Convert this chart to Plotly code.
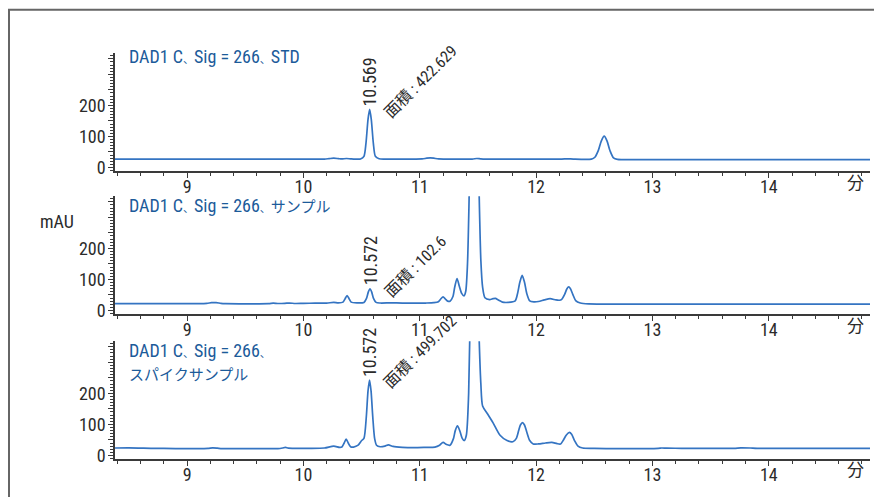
import plotly.graph_objects as go

# --- chromatogram data (retention time in minutes, signal in mAU) ---
std_time = [8.38, 8.60, 9.00, 9.50, 10.00, 10.18, 10.22, 10.26, 10.30, 10.33, 10.37, 10.41,
            10.47, 10.49, 10.52, 10.537, 10.555, 10.569, 10.583, 10.601, 10.618, 10.65, 10.70,
            10.90, 11.02, 11.06, 11.09, 11.12, 11.16, 11.25, 11.45, 11.49, 11.52, 11.56, 12.00,
            12.22, 12.27, 12.32, 12.475, 12.505, 12.535, 12.56, 12.585, 12.61, 12.635, 12.665,
            12.70, 12.75, 13.00, 14.00, 14.87]
std_mau = [27, 27, 27, 27, 27, 27, 28.5, 30, 28.5, 27.5, 29, 27.5,
           27, 27.5, 36, 77, 155, 187, 155, 77, 36, 28, 27,
           27, 27.5, 30, 31, 30, 27.5, 27, 27, 29, 28, 27, 27,
           27, 28, 27, 27, 33, 55, 85, 101, 85, 54, 31,
           26, 25.5, 25.5, 25.5, 25.5]

smp_time = [8.38, 8.80, 9.10, 9.17, 9.21, 9.25, 9.29, 9.33, 9.70, 9.74, 9.78, 9.84, 9.88,
            9.93, 10.00, 10.10, 10.20, 10.26, 10.30, 10.34, 10.358, 10.375, 10.392, 10.41,
            10.46, 10.52, 10.542, 10.558, 10.572, 10.586, 10.602, 10.624, 10.66, 10.75, 10.85,
            10.95, 11.05, 11.12, 11.16, 11.18, 11.20, 11.22, 11.24, 11.26, 11.285, 11.30,
            11.32, 11.34, 11.36, 11.38, 11.395, 11.41, 11.425, 11.445, 11.468, 11.49, 11.51,
            11.525, 11.54, 11.56, 11.60, 11.63, 11.65, 11.675, 11.71, 11.76, 11.82, 11.84,
            11.86, 11.88, 11.90, 11.92, 11.945, 11.98, 12.02, 12.07, 12.12, 12.17, 12.20,
            12.22, 12.245, 12.265, 12.28, 12.295, 12.315, 12.34, 12.38, 12.45, 12.60, 13.00,
            14.00, 14.87]
smp_mau = [22, 22, 22, 23, 25, 25.5, 23, 22, 22, 23.5, 22.5, 23, 24,
           22.5, 23, 23.5, 24, 26, 24.5, 27, 38, 48, 38, 27,
           24.5, 26, 39, 60, 70, 60, 39, 26, 24, 24.5, 24,
           23.5, 24, 25, 28, 37, 44, 37, 30, 30, 45, 75,
           103, 78, 55, 47, 62, 150, 380, 800, 1000, 800, 380,
           160, 75, 41, 35, 38, 39, 34, 27, 26, 31, 54,
           91, 113, 91, 54, 31, 28, 29, 34, 38, 34, 33,
           36, 52, 70, 76, 70, 52, 32, 24, 21, 20.5, 20.5,
           20.5, 20.5]

spk_time = [8.38, 8.50, 8.70, 8.90, 9.10, 9.18, 9.22, 9.26, 9.30, 9.60, 9.78, 9.82, 9.845,
            9.87, 9.95, 10.05, 10.18, 10.26, 10.31, 10.33, 10.35, 10.367, 10.385, 10.405,
            10.43, 10.47, 10.50, 10.52, 10.54, 10.555, 10.568, 10.581, 10.596, 10.612, 10.628,
            10.66, 10.70, 10.73, 10.77, 10.85, 10.95, 11.05, 11.13, 11.17, 11.20, 11.23,
            11.26, 11.29, 11.305, 11.324, 11.345, 11.365, 11.382, 11.40, 11.42, 11.44, 11.465,
            11.49, 11.51, 11.525, 11.54, 11.58, 11.63, 11.69, 11.75, 11.80, 11.83, 11.85,
            11.865, 11.883, 11.90, 11.92, 11.945, 11.975, 12.02, 12.08, 12.135, 12.18, 12.21,
            12.235, 12.26, 12.287, 12.305, 12.33, 12.36, 12.40, 12.50, 13.05, 13.08, 13.12,
            13.25, 13.70, 13.76, 13.84, 13.90, 14.87]
spk_mau = [24, 24.5, 23, 22, 22, 23, 24.5, 23.5, 22, 22, 22, 24, 26,
           23.5, 23, 23, 24, 30, 26, 27, 40, 53, 40, 28,
           27, 33, 48, 55, 123, 208, 243, 208, 123, 54, 33,
           28, 30, 34, 29, 26, 25, 26, 27, 33, 42, 35,
           33, 55, 80, 95, 78, 55, 48, 65, 200, 600, 950,
           700, 380, 230, 159, 135, 105, 65, 48, 44, 55, 80,
           98, 106, 98, 75, 48, 37, 37, 40, 42, 38, 37,
           50, 66, 74, 68, 48, 30, 24, 23, 23, 24, 23.5,
           23, 23, 24.5, 24, 23, 23]

# kana and the ideographic comma are set a little smaller than the Latin part
COMMA = "<span style='font-size:11px'>、</span>"


def kana(s):
    return f"<span style='font-size:15px'>{s}</span>"


panel_titles = [f"DAD1 C{COMMA}Sig = 266{COMMA}STD",
                f"DAD1 C{COMMA}Sig = 266{COMMA}{kana('サンプル')}",
                f"DAD1 C{COMMA}Sig = 266{COMMA}<br>{kana('スパイクサンプル')}"]
peak_rt = [10.569, 10.572, 10.568]
peak_label_rt = ["10.569", "10.572", "10.572"]
peak_height = [187, 70, 243]
peak_area = ["422.629", "102.6", "499.702"]

x_ticks = [9, 10, 11, 12, 13, 14]
y_ticks = [0, 50, 100, 150, 200, 250, 300, 350]
y_ticktext = ["0", "", "100", "", "200", "", "", ""]

traces = [(std_time, std_mau), (smp_time, smp_mau), (spk_time, spk_mau)]

# --- geometry (pixels of the 874 x 504 page) ---
W, H = 874, 504
x_dom = [115 / W, 870 / W]
y_doms = [[1 - 173 / H, 1 - 54 / H],
          [1 - 318 / H, 1 - 199 / H],
          [1 - 465 / H, 1 - 346 / H]]
title_y_px = [57, 208, 353]
unit_y_px = [186, 331, 477]

FONT = "Liberation Sans Narrow, Roboto Condensed, DejaVu Sans Condensed, Noto Sans CJK JP"
LINE_BLUE = "#3474c2"
TITLE_BLUE = "#1c5b9a"
AXIS = "#3a3a3a"
TEXT = "#2b2b2b"

fig = go.Figure()
layout = dict(
    width=W, height=H,
    margin=dict(l=0, r=0, t=0, b=0),
    paper_bgcolor="white", plot_bgcolor="white",
    showlegend=False,
    font=dict(family=FONT, size=18, color=TEXT),
)
annotations = []

for i, ((t, v), dom) in enumerate(zip(traces, y_doms)):
    n = "" if i == 0 else str(i + 1)
    fig.add_trace(go.Scatter(
        x=t, y=v, mode="lines",
        line=dict(color=LINE_BLUE, width=1.7, shape="spline", smoothing=0.7),
        xaxis="x" + n, yaxis="y" + n, hoverinfo="skip",
    ))
    layout["xaxis" + n] = dict(
        domain=x_dom, anchor="y" + n, range=[8.38, 14.87],
        showline=True, linecolor=AXIS, linewidth=1.5,
        ticks="outside", ticklen=6, tickwidth=1.3, tickcolor=AXIS,
        tickvals=x_ticks, ticktext=[str(k) for k in x_ticks],
        tickfont=dict(family=FONT, size=18, color=TEXT),
        ticklabelstandoff=-7,
        minor=dict(dtick=0.2, tick0=0, ticks="outside", ticklen=4, tickwidth=1.1, tickcolor=AXIS),
        showgrid=False, zeroline=False, fixedrange=True,
    )
    layout["yaxis" + n] = dict(
        domain=dom, anchor="x" + n, range=[-10, 368],
        showline=True, linecolor=AXIS, linewidth=1.5,
        ticks="outside", ticklen=5, tickwidth=1.1, tickcolor=AXIS,
        tickvals=y_ticks, ticktext=y_ticktext,
        tickfont=dict(family=FONT, size=18, color=TEXT),
        ticklabelstandoff=-1,
        minor=dict(dtick=10, tick0=0, ticks="outside", ticklen=3, tickwidth=0.9, tickcolor=AXIS),
        showgrid=False, zeroline=False, fixedrange=True,
    )

    # signal title
    annotations.append(dict(
        xref="paper", yref="paper", x=127 / W, y=1 - title_y_px[i] / H,
        xanchor="left", yanchor="top" if i == 2 else "middle",
        yshift=10 if i == 2 else 0,
        text=panel_titles[i], showarrow=False, align="left",
        font=dict(family=FONT, size=18, color=TITLE_BLUE),
    ))
    # retention time of the labelled peak
    annotations.append(dict(
        xref="x" + n, yref="y" + n, x=peak_rt[i], y=peak_height[i],
        xanchor="center", yanchor="bottom", yshift=1,
        text=peak_label_rt[i], textangle=-90, showarrow=False,
        font=dict(family=FONT, size=18, color=TEXT),
    ))
    # peak area
    annotations.append(dict(
        xref="x" + n, yref="y" + n, x=peak_rt[i], y=peak_height[i],
        xanchor="left", yanchor="bottom", xshift=8, yshift=-15,
        text="面積 : " + peak_area[i], textangle=-45, showarrow=False,
        font=dict(family=FONT, size=16, color=TEXT),
    ))
    # time unit at the end of each axis
    annotations.append(dict(
        xref="x" + n, yref="paper", x=14.745, y=1 - unit_y_px[i] / H,
        xanchor="center", yanchor="middle",
        text="分", showarrow=False,
        font=dict(family=FONT, size=17, color=TEXT),
    ))

annotations.append(dict(
    xref="paper", yref="paper", x=57 / W, y=1 - 225 / H,
    xanchor="center", yanchor="middle", text="mAU", showarrow=False,
    font=dict(family=FONT, size=18, color=TEXT),
))
layout["annotations"] = annotations

# frame around the figure
layout["shapes"] = [dict(
    type="path", xref="paper", yref="paper",
    path=f"M {9 / W},0 L {9 / W},{1 - 10 / H} L 1.01,{1 - 10 / H}",
    line=dict(color="#666666", width=2),
)]

fig.update_layout(**layout)
fig.write_html("out.html")
